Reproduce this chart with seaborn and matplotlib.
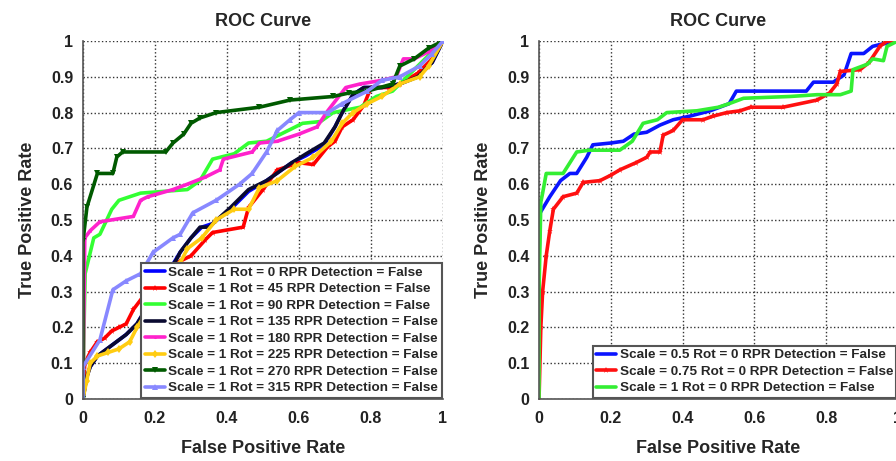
import matplotlib
matplotlib.use("Agg")
import matplotlib.pyplot as plt
import seaborn as sns
from matplotlib.ticker import FormatStrFormatter

# ROC curves (left panel: rotations)
fpr_rot0 = [0, 0.01, 0.02, 0.04, 0.08, 0.12, 0.15, 0.18, 0.21, 0.24, 0.27, 0.30, 0.33, 0.36, 0.41, 0.46, 0.51, 0.58, 0.62, 0.67, 0.70, 0.72, 0.75, 0.78, 0.83, 0.88, 0.93, 0.97, 1.0]
tpr_rot0 = [0, 0.06, 0.09, 0.12, 0.15, 0.18, 0.21, 0.26, 0.31, 0.36, 0.41, 0.45, 0.48, 0.49, 0.53, 0.58, 0.61, 0.66, 0.68, 0.71, 0.76, 0.80, 0.85, 0.87, 0.87, 0.88, 0.90, 0.94, 1.0]

fpr_rot45 = [0, 0.005, 0.02, 0.04, 0.06, 0.08, 0.10, 0.12, 0.14, 0.17, 0.20, 0.24, 0.27, 0.30, 0.34, 0.36, 0.445, 0.46, 0.50, 0.54, 0.60, 0.64, 0.68, 0.70, 0.72, 0.75, 0.78, 0.80, 0.85, 0.88, 0.93, 0.97, 1.0]
tpr_rot45 = [0, 0.10, 0.13, 0.16, 0.17, 0.19, 0.20, 0.21, 0.25, 0.29, 0.32, 0.36, 0.385, 0.40, 0.445, 0.465, 0.48, 0.535, 0.585, 0.64, 0.66, 0.655, 0.705, 0.72, 0.76, 0.78, 0.82, 0.87, 0.87, 0.88, 0.91, 0.95, 1.0]

fpr_rot90 = [0, 0.003, 0.006, 0.03, 0.047, 0.08, 0.10, 0.16, 0.29, 0.325, 0.36, 0.42, 0.46, 0.51, 0.57, 0.61, 0.66, 0.695, 0.77, 0.815, 0.86, 0.90, 0.955, 1.0]
tpr_rot90 = [0, 0.20, 0.35, 0.45, 0.46, 0.53, 0.555, 0.575, 0.585, 0.61, 0.67, 0.685, 0.715, 0.72, 0.75, 0.77, 0.775, 0.80, 0.815, 0.845, 0.86, 0.90, 0.955, 1.0]

fpr_rot135 = [0, 0.01, 0.02, 0.04, 0.08, 0.12, 0.15, 0.18, 0.21, 0.24, 0.26, 0.27, 0.30, 0.325, 0.35, 0.41, 0.46, 0.51, 0.58, 0.62, 0.67, 0.70, 0.72, 0.75, 0.78, 0.83, 0.88, 0.93, 0.97, 1.0]
tpr_rot135 = [0, 0.06, 0.09, 0.12, 0.15, 0.18, 0.21, 0.26, 0.31, 0.36, 0.39, 0.41, 0.45, 0.48, 0.48, 0.535, 0.585, 0.61, 0.66, 0.685, 0.715, 0.76, 0.80, 0.85, 0.87, 0.87, 0.88, 0.90, 0.94, 1.0]

fpr_rot180 = [0, 0.005, 0.02, 0.047, 0.14, 0.16, 0.18, 0.25, 0.29, 0.34, 0.38, 0.39, 0.47, 0.49, 0.54, 0.60, 0.65, 0.68, 0.73, 0.77, 0.83, 0.87, 0.89, 0.92, 0.96, 1.0]
tpr_rot180 = [0, 0.45, 0.47, 0.495, 0.51, 0.555, 0.565, 0.585, 0.60, 0.62, 0.64, 0.67, 0.69, 0.715, 0.72, 0.74, 0.76, 0.805, 0.87, 0.88, 0.89, 0.90, 0.95, 0.95, 0.97, 1.0]

fpr_rot225 = [0, 0.01, 0.02, 0.04, 0.07, 0.10, 0.13, 0.15, 0.20, 0.24, 0.27, 0.29, 0.33, 0.37, 0.42, 0.46, 0.49, 0.54, 0.59, 0.64, 0.69, 0.72, 0.75, 0.79, 0.83, 0.88, 0.935, 0.96, 1.0]
tpr_rot225 = [0, 0.05, 0.10, 0.12, 0.13, 0.14, 0.16, 0.20, 0.28, 0.34, 0.38, 0.42, 0.45, 0.50, 0.53, 0.53, 0.59, 0.61, 0.65, 0.675, 0.72, 0.77, 0.80, 0.825, 0.845, 0.88, 0.90, 0.93, 1.0]

fpr_rot270 = [0, 0.0, 0.011, 0.04, 0.083, 0.094, 0.11, 0.23, 0.25, 0.28, 0.30, 0.325, 0.37, 0.49, 0.575, 0.695, 0.74, 0.79, 0.86, 0.88, 0.92, 0.96, 1.0]
tpr_rot270 = [0, 0.44, 0.536, 0.63, 0.63, 0.676, 0.69, 0.69, 0.715, 0.74, 0.77, 0.785, 0.80, 0.815, 0.835, 0.845, 0.855, 0.86, 0.88, 0.93, 0.95, 0.98, 1.0]

fpr_rot315 = [0, 0.0, 0.047, 0.083, 0.12, 0.16, 0.195, 0.25, 0.27, 0.305, 0.37, 0.435, 0.47, 0.51, 0.54, 0.575, 0.60, 0.68, 0.72, 0.79, 0.83, 0.88, 0.935, 0.97, 1.0]
tpr_rot315 = [0, 0.09, 0.165, 0.305, 0.33, 0.35, 0.41, 0.45, 0.46, 0.52, 0.555, 0.60, 0.63, 0.69, 0.75, 0.78, 0.80, 0.80, 0.825, 0.86, 0.89, 0.90, 0.93, 0.965, 1.0]

# right panel: scales
fpr_s050 = [0, 0.0, 0.003, 0.03, 0.06, 0.086, 0.105, 0.133, 0.15, 0.20, 0.235, 0.265, 0.30, 0.337, 0.374, 0.42, 0.477, 0.53, 0.55, 0.745, 0.765, 0.82, 0.85, 0.87, 0.905, 0.93, 0.95, 1.0]
tpr_s050 = [0, 0.40, 0.52, 0.565, 0.61, 0.63, 0.63, 0.675, 0.71, 0.715, 0.72, 0.74, 0.745, 0.765, 0.78, 0.79, 0.805, 0.825, 0.86, 0.86, 0.885, 0.885, 0.905, 0.965, 0.965, 0.985, 0.99, 1.0]

fpr_s075 = [0, 0.005, 0.01, 0.02, 0.03, 0.04, 0.067, 0.105, 0.123, 0.17, 0.20, 0.225, 0.27, 0.30, 0.31, 0.337, 0.346, 0.374, 0.40, 0.457, 0.485, 0.523, 0.56, 0.59, 0.68, 0.775, 0.81, 0.83, 0.84, 0.895, 0.92, 0.95, 0.97, 1.0]
tpr_s075 = [0, 0.20, 0.30, 0.40, 0.47, 0.53, 0.565, 0.575, 0.605, 0.61, 0.625, 0.64, 0.66, 0.675, 0.69, 0.69, 0.737, 0.75, 0.78, 0.78, 0.79, 0.80, 0.805, 0.815, 0.815, 0.835, 0.855, 0.88, 0.915, 0.92, 0.94, 0.985, 1.0, 1.0]

fpr_s100 = [0, 0.0, 0.005, 0.01, 0.02, 0.067, 0.086, 0.105, 0.14, 0.225, 0.26, 0.29, 0.33, 0.356, 0.44, 0.50, 0.53, 0.57, 0.70, 0.775, 0.84, 0.87, 0.875, 0.915, 0.93, 0.96, 0.97, 1.0]
tpr_s100 = [0, 0.30, 0.55, 0.575, 0.63, 0.63, 0.66, 0.69, 0.695, 0.695, 0.72, 0.77, 0.78, 0.80, 0.805, 0.815, 0.825, 0.84, 0.845, 0.85, 0.85, 0.86, 0.92, 0.935, 0.95, 0.945, 0.985, 1.0]

left_series = [
    ("Scale = 1 Rot = 0 RPR Detection = False", fpr_rot0, tpr_rot0, "#0000ff", None),
    ("Scale = 1 Rot = 45 RPR Detection = False", fpr_rot45, tpr_rot45, "#ff0000", "*"),
    ("Scale = 1 Rot = 90 RPR Detection = False", fpr_rot90, tpr_rot90, "#33ff33", None),
    ("Scale = 1 Rot = 135 RPR Detection = False", fpr_rot135, tpr_rot135, "#0a0a30", None),
    ("Scale = 1 Rot = 180 RPR Detection = False", fpr_rot180, tpr_rot180, "#ff22cc", "."),
    ("Scale = 1 Rot = 225 RPR Detection = False", fpr_rot225, tpr_rot225, "#ffcc11", "d"),
    ("Scale = 1 Rot = 270 RPR Detection = False", fpr_rot270, tpr_rot270, "#005a00", "v"),
    ("Scale = 1 Rot = 315 RPR Detection = False", fpr_rot315, tpr_rot315, "#8888ff", "^"),
]
right_series = [
    ("Scale = 0.5 Rot = 0 RPR Detection = False", fpr_s050, tpr_s050, "#0a14ff", None),
    ("Scale = 0.75 Rot = 0 RPR Detection = False", fpr_s075, tpr_s075, "#ff1010", "*"),
    ("Scale = 1 Rot = 0 RPR Detection = False", fpr_s100, tpr_s100, "#33ee33", None),
]

sns.set_style("whitegrid")
plt.rcParams['font.family'] = ['Liberation Sans', 'DejaVu Sans']
plt.rcParams['font.weight'] = 'bold'
plt.rcParams['axes.labelweight'] = 'bold'
plt.rcParams['axes.titleweight'] = 'bold'

fig = plt.figure(figsize=(8.96, 4.61), dpi=100)
ax1 = fig.add_axes([0.0926, 0.1345, 0.4018, 0.7766])
ax2 = fig.add_axes([0.6016, 0.1345, 0.4004, 0.7766])

for ax, series in [(ax1, left_series), (ax2, right_series)]:
    for label, fpr, tpr, color, marker in series:
        sns.lineplot(x=fpr, y=tpr, ax=ax, sort=False, estimator=None, color=color,
                     linewidth=2.6, marker=marker, markersize=4.5, markeredgewidth=0,
                     label=label)
    ax.set_xlim(0, 1)
    ax.set_ylim(0, 1)
    ax.set_xticks([0, 0.2, 0.4, 0.6, 0.8, 1.0])
    ax.set_yticks([0, 0.1, 0.2, 0.3, 0.4, 0.5, 0.6, 0.7, 0.8, 0.9, 1.0])
    ax.xaxis.set_major_formatter(FormatStrFormatter('%g'))
    ax.yaxis.set_major_formatter(FormatStrFormatter('%g'))
    ax.tick_params(axis='both', labelsize=11.5, length=0, colors='#222222')
    ax.tick_params(axis='y', pad=7)
    ax.tick_params(axis='x', pad=9)
    ax.grid(True, color='#333333', linestyle=':', linewidth=1.0)
    for side in ['top', 'right']:
        ax.spines[side].set_visible(False)
    for side in ['left', 'bottom']:
        ax.spines[side].set_color('#555555')
        ax.spines[side].set_linewidth(1.2)
    ax.set_title("ROC Curve", fontsize=13, fontweight='bold', pad=11)
    ax.set_xlabel("False Positive Rate", fontsize=13, fontweight='bold', labelpad=10)
    ax.set_ylabel("True Positive Rate", fontsize=13, fontweight='bold', labelpad=11)
    leg = ax.legend(loc='lower right', fontsize=9.7, labelspacing=0.3, borderpad=0.25,
                    handlelength=1.5, handletextpad=0.25, borderaxespad=0.1,
                    fancybox=False, framealpha=1, edgecolor='#555555')
    leg.get_frame().set_linewidth(1.5)

fig.savefig("out.png", dpi=100)
